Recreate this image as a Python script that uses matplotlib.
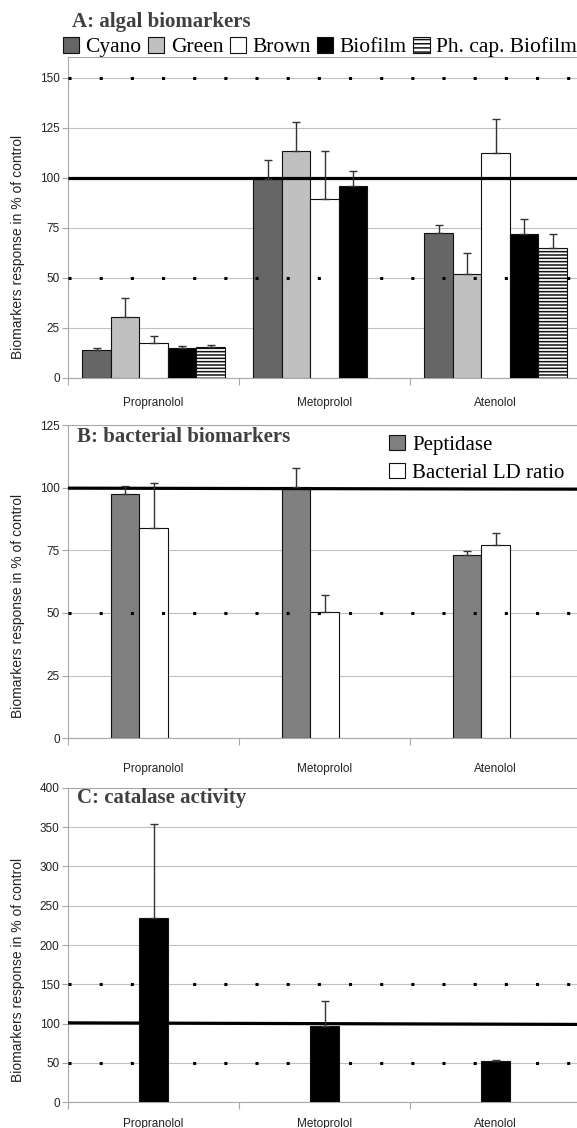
import numpy as np
from matplotlib import pyplot as plt
from matplotlib.patches import Patch

# drugs on the x axis
drugs = ["Propranolol", "Metoprolol", "Atenolol"]

# A: algal biomarkers (mean, upper error)
algal_names = ["Cyano", "Green", "Brown", "Biofilm", "Ph. cap. Biofilm"]
cyano = [14, 99.6, 72.6]
cyano_err = [1, 9.4, 4]
green = [30.4, 113.4, 52]
green_err = [9.6, 14.6, 10.4]
brown = [17.6, 89.5, 112.4]
brown_err = [3.4, 23.9, 17.1]
biofilm = [15, 96, 72]
biofilm_err = [1, 7.5, 7.4]
phcap = [15.5, np.nan, 65]
phcap_err = [1, np.nan, 7.2]

# B: bacterial biomarkers
bact_names = ["Peptidase", "Bacterial LD ratio"]
peptidase = [97.4, 100.3, 73]
peptidase_err = [3.2, 7.7, 1.9]
ld_ratio = [84, 50.3, 77.3]
ld_ratio_err = [17.8, 6.9, 4.7]

# C: catalase
catalase = [234.7, 97, 52.1]
catalase_err = [118.7, 31.8, 2.1]

W, H = 577, 1128
SANS = "Liberation Sans"
SERIF = "Liberation Serif"
TITLE_COL = "#404040"
GRID_COL = "#c0c0c0"

fig = plt.figure(figsize=(W / 100, H / 100), dpi=100)


def make_axes(top_px, bottom_px):
    return fig.add_axes([68 / W, 1 - bottom_px / H, 513 / W, (bottom_px - top_px) / H])


def style_axes(ax, ymax, ystep, dotted, label_pad, line_y=(100, 100)):
    ax.set_xlim(-0.5, 2.5)
    ax.set_ylim(0, ymax)
    ax.set_yticks(np.arange(0, ymax + 0.1, ystep))
    ax.yaxis.grid(True, color=GRID_COL, linewidth=0.8, zorder=0)
    ax.set_axisbelow(True)
    ax.spines["right"].set_visible(False)
    for s in ["left", "bottom", "top"]:
        ax.spines[s].set_color("#a8a8a8")
        ax.spines[s].set_linewidth(0.8)
    ax.tick_params(axis="y", length=4, color="#a8a8a8", pad=2, labelsize=8.5,
                   labelcolor="#222222")
    for lab in ax.get_yticklabels():
        lab.set_fontfamily(SANS)
    # category boundaries as ticks, names as minor ticks
    ax.set_xticks([-0.5, 0.5, 1.5, 2.5])
    ax.set_xticklabels([])
    ax.tick_params(axis="x", which="major", length=5, color="#a8a8a8")
    ax.set_xticks([0, 1, 2], minor=True)
    ax.set_xticklabels(drugs, minor=True, fontsize=8.5, fontfamily=SANS,
                       color="#222222")
    ax.tick_params(axis="x", which="minor", length=0, pad=label_pad)
    for yv in dotted:
        ax.axhline(yv, color="black", linewidth=2.2, linestyle=(0, (1, 9.2)),
                   dash_capstyle="butt", zorder=4)
    ax.plot([-0.5, 2.5], list(line_y), color="black", linewidth=2.3, zorder=5,
            solid_capstyle="butt")


def draw_bars(ax, x, vals, errs, color, hatch=None):
    vals = np.array(vals, dtype=float)
    errs = np.array(errs, dtype=float)
    ok = ~np.isnan(vals)
    ax.bar(x[ok], vals[ok], width=w, color=color, edgecolor="#111111",
           linewidth=0.8, hatch=hatch, zorder=3)
    ax.errorbar(x[ok], vals[ok], yerr=[np.zeros(ok.sum()), errs[ok]], fmt="none",
                ecolor="#333333", elinewidth=1.0, capsize=3.2, capthick=1.0,
                zorder=6)


plt.rcParams["hatch.linewidth"] = 1.1
w = 1 / 6
xc = np.arange(3)

# ---------------- A ----------------
axA = make_axes(57, 378)
algal_vals = [cyano, green, brown, biofilm, phcap]
algal_errs = [cyano_err, green_err, brown_err, biofilm_err, phcap_err]
algal_cols = ["#666666", "#c0c0c0", "white", "black", "white"]
algal_hatch = [None, None, None, None, "-----"]
for i in range(5):
    draw_bars(axA, xc + (i - 2) * w, algal_vals[i], algal_errs[i], algal_cols[i],
              algal_hatch[i])
style_axes(axA, 160.5, 25, [50, 150], 14)
axA.set_yticks(np.arange(0, 151, 25))

fig.text(72 / W, 1 - 22 / H, "A: algal biomarkers", fontsize=15, fontweight="bold",
         fontfamily=SERIF, color=TITLE_COL, va="center", ha="left")
handlesA = [Patch(facecolor=algal_cols[i], edgecolor="#111111", linewidth=0.8,
                  hatch=algal_hatch[i] and "----") for i in range(5)]
fig.legend(handlesA, algal_names, loc="center left",
           bbox_to_anchor=(63 / W, 1 - 47 / H), ncol=5, frameon=False,
           borderpad=0, borderaxespad=0, handlelength=0.75, handleheight=0.75,
           handletextpad=0.3, columnspacing=0.3,
           prop={"family": SERIF, "size": 15.5})

# ---------------- B ----------------
axB = make_axes(425, 738.3)
draw_bars(axB, xc - w, peptidase, peptidase_err, "#808080")
draw_bars(axB, xc, ld_ratio, ld_ratio_err, "white")
style_axes(axB, 125, 25, [50], 18, line_y=(99.8, 99.4))
axB.text(77 / W, 1 - 436.7 / H, "B: bacterial biomarkers", transform=fig.transFigure,
         fontsize=15, fontweight="bold", fontfamily=SERIF, color=TITLE_COL,
         va="center", ha="left")
handlesB = [Patch(facecolor="#808080", edgecolor="#111111", linewidth=0.8),
            Patch(facecolor="white", edgecolor="#111111", linewidth=0.8)]
axB.legend(handlesB, bact_names, loc="upper left",
           bbox_to_anchor=(389 / W, 1 - 435 / H), bbox_transform=fig.transFigure,
           frameon=False, borderpad=0, borderaxespad=0, handlelength=0.75,
           handleheight=0.75, handletextpad=0.35, labelspacing=0.4,
           prop={"family": SERIF, "size": 15})

# ---------------- C ----------------
axC = make_axes(787.7, 1102.3)
draw_bars(axC, xc, catalase, catalase_err, "black")
style_axes(axC, 400, 50, [50, 150], 11, line_y=(101, 99))
axC.text(77 / W, 1 - 798 / H, "C: catalase activity", transform=fig.transFigure,
         fontsize=15, fontweight="bold", fontfamily=SERIF, color=TITLE_COL,
         va="center", ha="left")

# y labels
for yc in [247, 606, 970]:
    fig.text(18 / W, 1 - yc / H, "Biomarkers response in % of control", rotation=90,
             fontsize=10, fontfamily=SANS, color="#222222", va="center", ha="center")

fig.savefig("out.png", dpi=100)
